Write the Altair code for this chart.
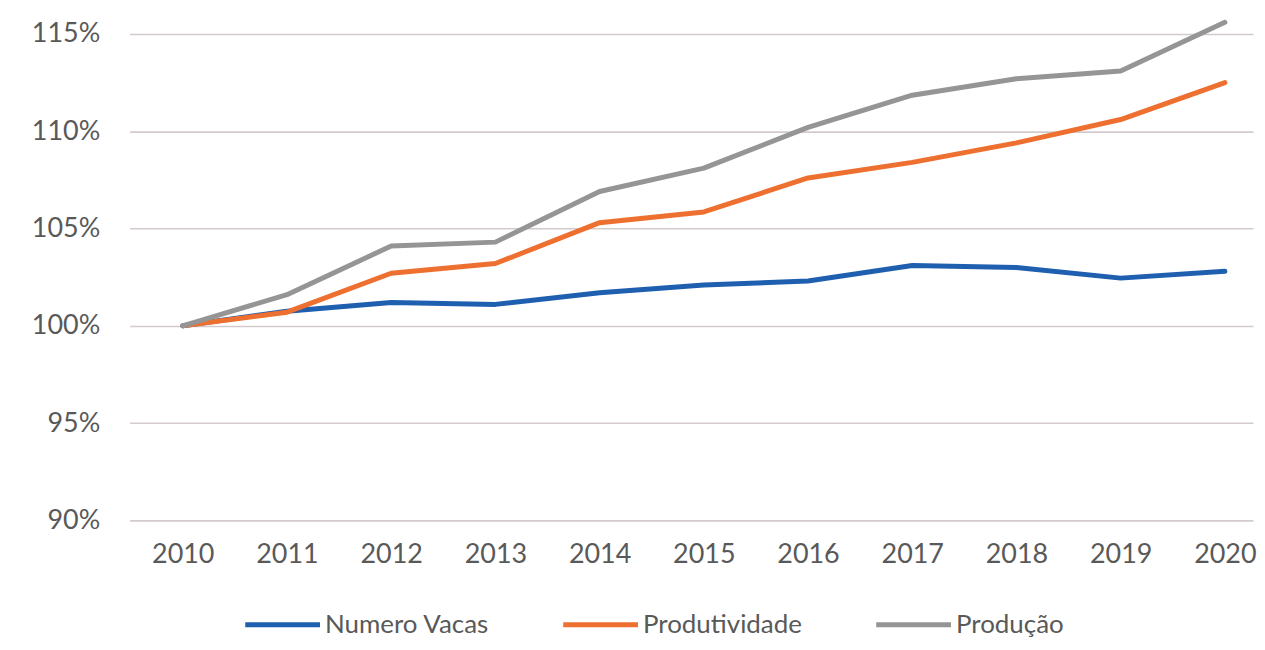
import altair as alt
import pandas as pd

years = [2010, 2011, 2012, 2013, 2014, 2015, 2016, 2017, 2018, 2019, 2020]
numero_vacas = [100.0, 100.75, 101.2, 101.1, 101.7, 102.1, 102.3, 103.1, 103.0, 102.45, 102.8]
produtividade = [100.0, 100.7, 102.7, 103.2, 105.3, 105.85, 107.6, 108.4, 109.4, 110.6, 112.5]
producao = [100.0, 101.6, 104.1, 104.3, 106.9, 108.1, 110.2, 111.85, 112.7, 113.1, 115.6]
series_names = ["Numero Vacas", "Produtividade", "Produção"]
series_colors = ["#1f5faf", "#ee7030", "#959595"]
y_ticks = [90, 95, 100, 105, 110, 115]

rows = []
for name, vals in zip(series_names, [numero_vacas, produtividade, producao]):
    for yr, v in zip(years, vals):
        rows.append({"ano": yr, "valor": v, "serie": name, "ordem": series_names.index(name)})
df = pd.DataFrame(rows)

FONT = "Lato"
LABEL_COLOR = "#595959"

chart = (
    alt.Chart(df)
    .mark_line(strokeWidth=5, strokeCap="round", strokeJoin="round")
    .encode(
        x=alt.X(
            "ano:Q",
            scale=alt.Scale(domain=[2009.49, 2020.27], nice=False, zero=False),
            axis=alt.Axis(
                values=years,
                format="d",
                title=None,
                grid=False,
                domain=False,
                ticks=False,
                labelFont=FONT,
                labelFontSize=27,
                labelColor=LABEL_COLOR,
                labelPadding=21,
            ),
        ),
        y=alt.Y(
            "valor:Q",
            scale=alt.Scale(domain=[90, 116.28], nice=False, zero=False),
            axis=alt.Axis(
                values=y_ticks,
                labelExpr="datum.value + '%'",
                title=None,
                domain=False,
                ticks=False,
                grid=True,
                gridColor="#d3cbcb",
                gridWidth=1.6,
                labelFont=FONT,
                labelFontSize=27,
                labelColor=LABEL_COLOR,
                labelPadding=30,
            ),
        ),
        color=alt.Color(
            "serie:N",
            scale=alt.Scale(domain=series_names, range=series_colors),
            legend=alt.Legend(
                title=None,
                orient="none",
                direction="horizontal",
                legendX=136,
                legendY=600,
                symbolType="M-2.5,0H2.5",
                symbolStrokeWidth=5,
                symbolSize=900,
                labelFont=FONT,
                labelFontSize=26,
                labelColor=LABEL_COLOR,
                labelLimit=0,
                labelOffset=25,
                columnPadding=64,
            ),
        ),
        order="ordem:Q",
    )
    .properties(
        width=1127,
        height=513,
        background="white",
        padding={"left": 122, "top": 0, "right": 4, "bottom": 122},
        autosize=alt.AutoSizeParams(type="none"),
    )
    .configure_view(stroke="transparent")
)

chart.save("out.html", embed_options={"renderer": "svg", "actions": False})
